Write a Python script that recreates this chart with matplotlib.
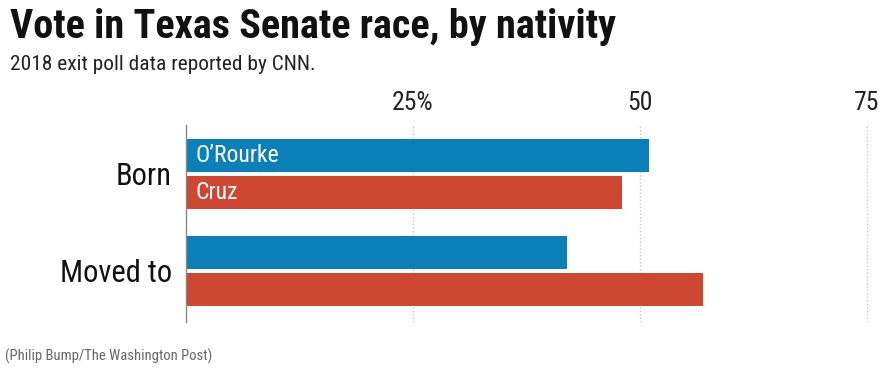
import matplotlib.pyplot as plt
import numpy as np

plt.rcParams['font.family'] = ['Roboto Condensed', 'Roboto', 'DejaVu Sans']

groups = ["Born", "Moved to"]
candidates = ["O\u2019Rourke", "Cruz"]
orourke = [51, 42]
cruz = [48, 57]
ticks = [25, 50, 75]
tick_labels = ["25%", "50", "75"]

blue = "#0b80b8"
red = "#cd4731"

fig = plt.figure(figsize=(8.9, 3.85), dpi=100)
ax = fig.add_axes([186 / 890, 1 - 322 / 385, 699 / 890, 197 / 385])

pos = np.arange(len(groups))
h = 0.34
off = 0.19
ax.barh(pos - off, orourke, height=h, color=blue)
ax.barh(pos + off, cruz, height=h, color=red)

# candidate names inside the first group's bars
ax.text(1.1, pos[0] - off, candidates[0], color="white", va="center", ha="left", fontsize=17)
ax.text(1.1, pos[0] + off, candidates[1], color="white", va="center", ha="left", fontsize=17)

ax.set_xlim(0, 77)
ax.set_ylim(1.526, -0.505)

for t in ticks:
    ax.axvline(t, color="#c8c8c8", linestyle=(0, (1, 1.5)), linewidth=1, zorder=0)

ax.xaxis.tick_top()
ax.set_xticks(ticks)
ax.set_xticklabels(tick_labels, fontsize=18.5)
ax.tick_params(axis="x", length=0, pad=7, colors="#222222")
ax.set_yticks(pos)
ax.set_yticklabels(groups, fontsize=22)
ax.tick_params(axis="y", length=0, pad=10, colors="#111111")

for s in ["top", "right", "bottom"]:
    ax.spines[s].set_visible(False)
ax.spines["left"].set_color("#888888")
ax.spines["left"].set_linewidth(1)

fig.text(10 / 890, 1 - 27 / 385, "Vote in Texas Senate race, by nativity",
         fontsize=29, fontweight="bold", va="center", ha="left", color="#111111")
fig.text(10 / 890, 1 - 64 / 385, "2018 exit poll data reported by CNN.",
         fontsize=15.4, va="center", ha="left", color="#222222")
fig.text(5 / 890, 1 - 356 / 385, "(Philip Bump/The Washington Post)",
         fontsize=10.5, va="center", ha="left", color="#666666")

fig.savefig("out.png", dpi=100)
